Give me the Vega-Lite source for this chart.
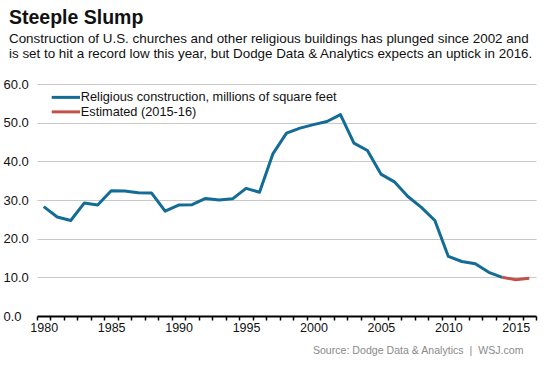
{
  "$schema": "https://vega.github.io/schema/vega-lite/v6.json",
  "width": 499,
  "height": 232,
  "autosize": {"type": "none"},
  "padding": {"left": 37, "top": 84, "right": 13, "bottom": 51},
  "background": "white",
  "config": {
    "view": {"stroke": null},
    "font": "Liberation Sans"
  },
  "title": {
    "text": "Steeple Slump",
    "subtitle": [
      "Construction of U.S. churches and other religious buildings has plunged since 2002 and",
      "is set to hit a record low this year, but Dodge Data & Analytics expects an uptick in 2016."
    ],
    "anchor": "start",
    "frame": "group",
    "dx": -28,
    "offset": 17,
    "fontSize": 19.5,
    "fontWeight": "bold",
    "color": "#111111",
    "subtitleFontSize": 13.4,
    "subtitleColor": "#111111",
    "subtitleLineHeight": 15,
    "subtitlePadding": 3
  },
  "data": {
    "values": [
      {"year": 1980, "value": 28.3, "series": "Religious construction, millions of square feet"},
      {"year": 1981, "value": 25.6, "series": "Religious construction, millions of square feet"},
      {"year": 1982, "value": 24.7, "series": "Religious construction, millions of square feet"},
      {"year": 1983, "value": 29.2, "series": "Religious construction, millions of square feet"},
      {"year": 1984, "value": 28.7, "series": "Religious construction, millions of square feet"},
      {"year": 1985, "value": 32.4, "series": "Religious construction, millions of square feet"},
      {"year": 1986, "value": 32.3, "series": "Religious construction, millions of square feet"},
      {"year": 1987, "value": 31.9, "series": "Religious construction, millions of square feet"},
      {"year": 1988, "value": 31.8, "series": "Religious construction, millions of square feet"},
      {"year": 1989, "value": 27.1, "series": "Religious construction, millions of square feet"},
      {"year": 1990, "value": 28.7, "series": "Religious construction, millions of square feet"},
      {"year": 1991, "value": 28.8, "series": "Religious construction, millions of square feet"},
      {"year": 1992, "value": 30.4, "series": "Religious construction, millions of square feet"},
      {"year": 1993, "value": 30.0, "series": "Religious construction, millions of square feet"},
      {"year": 1994, "value": 30.3, "series": "Religious construction, millions of square feet"},
      {"year": 1995, "value": 33.0, "series": "Religious construction, millions of square feet"},
      {"year": 1996, "value": 32.0, "series": "Religious construction, millions of square feet"},
      {"year": 1997, "value": 42.0, "series": "Religious construction, millions of square feet"},
      {"year": 1998, "value": 47.3, "series": "Religious construction, millions of square feet"},
      {"year": 1999, "value": 48.6, "series": "Religious construction, millions of square feet"},
      {"year": 2000, "value": 49.5, "series": "Religious construction, millions of square feet"},
      {"year": 2001, "value": 50.3, "series": "Religious construction, millions of square feet"},
      {"year": 2002, "value": 52.1, "series": "Religious construction, millions of square feet"},
      {"year": 2003, "value": 44.7, "series": "Religious construction, millions of square feet"},
      {"year": 2004, "value": 42.8, "series": "Religious construction, millions of square feet"},
      {"year": 2005, "value": 36.7, "series": "Religious construction, millions of square feet"},
      {"year": 2006, "value": 34.7, "series": "Religious construction, millions of square feet"},
      {"year": 2007, "value": 30.9, "series": "Religious construction, millions of square feet"},
      {"year": 2008, "value": 28.1, "series": "Religious construction, millions of square feet"},
      {"year": 2009, "value": 24.7, "series": "Religious construction, millions of square feet"},
      {"year": 2010, "value": 15.4, "series": "Religious construction, millions of square feet"},
      {"year": 2011, "value": 14.1, "series": "Religious construction, millions of square feet"},
      {"year": 2012, "value": 13.5, "series": "Religious construction, millions of square feet"},
      {"year": 2013, "value": 11.3, "series": "Religious construction, millions of square feet"},
      {"year": 2014, "value": 10.0, "series": "Religious construction, millions of square feet"},
      {"year": 2014, "value": 10.0, "series": "Estimated (2015-16)"},
      {"year": 2015, "value": 9.4, "series": "Estimated (2015-16)"},
      {"year": 2016, "value": 9.75, "series": "Estimated (2015-16)"}
    ]
  },
  "mark": {"type": "line", "strokeWidth": 3, "strokeJoin": "round"},
  "encoding": {
    "x": {
      "field": "year",
      "type": "quantitative",
      "scale": {"domain": [1979.5, 2016.5], "nice": false, "zero": false},
      "axis": {
        "values": [1979.5, 1980.5, 1981.5, 1982.5, 1983.5, 1984.5, 1985.5, 1986.5, 1987.5, 1988.5, 1989.5, 1990.5, 1991.5, 1992.5, 1993.5, 1994.5, 1995.5, 1996.5, 1997.5, 1998.5, 1999.5, 2000.5, 2001.5, 2002.5, 2003.5, 2004.5, 2005.5, 2006.5, 2007.5, 2008.5, 2009.5, 2010.5, 2011.5, 2012.5, 2013.5, 2014.5, 2015.5, 2016.5],
        "labelExpr": "(datum.value + 0.5) % 5 === 0 ? format(datum.value + 0.5, 'd') : ''",
        "labelOffset": 6.74,
        "labelOverlap": false,
        "labelFlush": false,
        "labelBound": false,
        "labelFontSize": 12.5,
        "labelColor": "#111111",
        "labelPadding": 1,
        "grid": false,
        "domain": true,
        "domainColor": "#000000",
        "domainWidth": 2,
        "ticks": true,
        "tickColor": "#000000",
        "tickSize": 4,
        "tickWidth": 1.5,
        "title": "Source: Dodge Data & Analytics\u00a0 |\u00a0 WSJ.com",
        "titleFontSize": 10.6,
        "titleFontWeight": "normal",
        "titleColor": "#8a8a8a",
        "titleAlign": "right",
        "titleAnchor": "end",
        "titleBaseline": "alphabetic",
        "titleX": 486,
        "titleY": 37.3
      }
    },
    "y": {
      "field": "value",
      "type": "quantitative",
      "scale": {"domain": [0, 60], "nice": false},
      "axis": {
        "values": [0, 10, 20, 30, 40, 50, 60],
        "format": ".1f",
        "title": null,
        "domain": false,
        "ticks": false,
        "tickSize": 0,
        "grid": true,
        "gridColor": "#c8c8c8",
        "gridWidth": 1.2,
        "labelAlign": "left",
        "labelBaseline": "middle",
        "labelPadding": 34,
        "labelFontSize": 13,
        "labelColor": "#111111"
      }
    },
    "color": {
      "field": "series",
      "type": "nominal",
      "sort": null,
      "scale": {
        "domain": ["Religious construction, millions of square feet", "Estimated (2015-16)"],
        "range": ["#136c96", "#c4504a"]
      },
      "legend": {
        "title": null,
        "orient": "none",
        "legendX": 22.5,
        "legendY": 7,
        "symbolType": "M-4,0H4",
        "symbolSize": 50,
        "symbolStrokeWidth": 3,
        "labelFontSize": 12.75,
        "labelColor": "#111111",
        "labelOffset": 8.5,
        "labelLimit": 400,
        "rowPadding": 0.5,
        "padding": 0
      }
    }
  }
}
